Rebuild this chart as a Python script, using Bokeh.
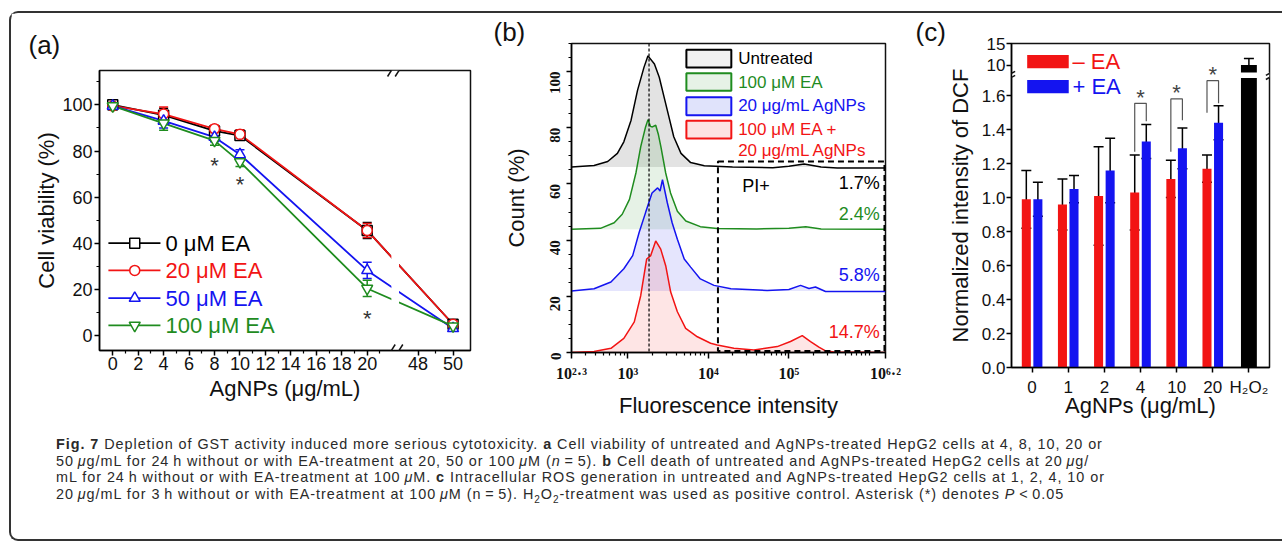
import math
from bokeh.plotting import figure
from bokeh.models import (FixedTicker, Range1d, Whisker, TeeHead, Arrow, Span,
                          BoxAnnotation, ColumnDataSource, Div)
from bokeh.layouts import row, column
from bokeh.embed import file_html
from bokeh.resources import INLINE
from bokeh.core.properties import value

SANS = "Liberation Sans"
SERIF = "Liberation Serif"

# ---------------- data: panel (a) ----------------
conc_a = [0, 4, 8, 10, 20, 50]
via_0 = [100, 95.5, 88.7, 86.7, 45.6, 5]
via_20 = [99.5, 96, 89.6, 87.2, 45.6, 5]
via_50 = [99.5, 93, 86, 78.5, 28.3, 3.2]
via_100 = [99.5, 92, 84.5, 75.3, 20.5, 4.2]
err_0 = [1.5, 3, 1.5, 1.5, 3.5, 1.5]
err_20 = [1.5, 3, 1.5, 2, 3, 1.5]
err_50 = [1.5, 3, 2, 2, 3.5, 1]
err_100 = [1.5, 3, 2, 2, 3.5, 1]
names_a = ["0 \u03bcM EA", "20 \u03bcM EA", "50 \u03bcM EA", "100 \u03bcM EA"]
sig_a_x = [8, 10, 20]
sig_a_y = [76, 67.5, 9.5]
xticks_a = [0, 2, 4, 6, 8, 10, 12, 14, 16, 18, 20, 48, 50]
yticks_a = [0, 20, 40, 60, 80, 100]

# ---------------- data: panel (b) ----------------
lx_untr = [2.30, 2.58, 2.75, 2.87, 2.95, 3.04, 3.12, 3.20, 3.25, 3.33, 3.39, 3.45,
           3.51, 3.57, 3.66, 3.78, 3.95, 4.3, 4.8, 5.0, 5.19, 5.4, 5.6, 6.2]
ct_untr = [66.0, 66.6, 68.0, 70.9, 75.0, 82.7, 93.3, 101.5, 105.6, 102.7, 98.0, 90.9,
           83.9, 76.8, 70.9, 67.6, 66.5, 66.0, 65.8, 66.3, 67.1, 66.0, 65.7, 65.7]
lx_ea = [2.30, 2.66, 2.83, 2.93, 3.02, 3.10, 3.16, 3.22, 3.25, 3.28, 3.305, 3.346, 3.38,
         3.41, 3.47, 3.53, 3.615, 3.72, 3.90, 4.11, 4.6, 5.0, 5.21, 5.4, 6.2]
ct_ea = [43.9, 44.2, 46.2, 49.2, 54.5, 63.9, 73.3, 80.3, 82.9, 80.5, 80.3, 80.9, 77.5,
         73.3, 63.9, 56.8, 50.3, 46.8, 44.8, 44.1, 44.0, 44.2, 44.8, 44.0, 43.9]
lx_ag = [2.30, 2.58, 2.79, 2.95, 3.06, 3.14, 3.22, 3.30, 3.37, 3.40, 3.43, 3.49, 3.55,
         3.615, 3.70, 3.78, 3.90, 4.07, 4.28, 4.73, 5.0, 5.145, 5.25, 5.33, 5.455, 6.2]
ct_ag = [21.9, 22.7, 25.1, 29.8, 34.5, 42.7, 49.8, 56.8, 58.6, 57.5, 61.5, 53.3, 46.2,
         40.3, 33.3, 30.4, 26.2, 23.9, 22.7, 22.1, 22.4, 23.9, 22.8, 23.3, 21.7, 21.7]
lx_both = [2.30, 2.58, 2.79, 2.95, 3.08, 3.16, 3.234, 3.284, 3.346, 3.408, 3.47, 3.532,
           3.615, 3.718, 3.863, 4.028, 4.11, 4.317, 4.565, 4.856, 5.02, 5.166, 5.269,
           5.373, 5.455, 5.558, 6.2]
ct_both = [0, 0.35, 1.5, 5.0, 10.9, 20.3, 33.3, 34.5, 39.7, 36.8, 30.9, 21.5,
           14.5, 8.6, 5.6, 3.3, 2.7, 1.5, 0.9, 2.1, 3.9, 6.0, 3.9,
           1.9, 0.6, 0.2, 0]
base_b = [66.0, 43.9, 21.9, 0.0]
pct_b = ["1.7%", "2.4%", "5.8%", "14.7%"]
pct_y = [60.4, 49.4, 27.6, 7.4]
names_b = ["Untreated", "100 \u03bcM EA", "20 \u03bcg/mL AgNPs", "100 \u03bcM EA +"]
peak_log = 3.263
gate_log = [4.119, 6.187]
gate_ct = [0.56, 68.0]

# ---------------- data: panel (c) ----------------
cats_c = ["0", "1", "2", "4", "10", "20", "H\u2082O\u2082"]
dcf_minus = [0.99, 0.96, 1.01, 1.03, 1.11, 1.17]
err_minus = [0.17, 0.15, 0.29, 0.22, 0.11, 0.08]
dcf_plus = [0.99, 1.05, 1.16, 1.33, 1.29, 1.44]
err_plus = [0.10, 0.08, 0.19, 0.10, 0.12, 0.10]
h2o2_val = 10.0
h2o2_err = 1.5
sig_c_idx = [3, 4, 5]
sig_c_top = [1.555, 1.581, 1.688]
sig_c_left = [1.27, 1.27, 1.50]
sig_c_right = [1.45, 1.455, 1.555]
sig_c_star = [1.62, 1.65, 1.756]

RED = "#f21414"
BLUE = "#1414f0"
GREEN = "#1f8c1f"
BLACK = "#000000"


def style_axes(p, tick_font, tick_size, tick_style="normal"):
    for ax in (p.xaxis[0], p.yaxis[0]):
        ax.axis_line_width = 1.5
        ax.major_tick_line_width = 1.5
        ax.minor_tick_line_width = 1.2
        ax.major_tick_in = 0
        ax.minor_tick_in = 0
        ax.major_label_text_font = tick_font
        ax.major_label_text_font_size = tick_size
        ax.major_label_text_font_style = tick_style
        ax.major_label_text_color = "#111111"
        ax.axis_label_text_font = SANS
        ax.axis_label_text_font_size = "22px"
        ax.axis_label_text_font_style = "normal"
        ax.axis_label_text_color = "#111111"
    p.xgrid.visible = False
    p.ygrid.visible = False
    p.outline_line_color = "#111111"
    p.outline_line_width = 1.5
    p.background_fill_color = "white"
    p.border_fill_color = "white"


def panel_label(p, offset, standoff):
    t = p.title
    t.align = "left"
    t.offset = offset
    t.standoff = standoff
    t.text_font = SANS
    t.text_font_size = "26px"
    t.text_font_style = "normal"
    t.text_color = "#111111"


# ================= panel (a) =================
def xa(c):
    return c if c <= 20 else 24 + (c - 48) * 1.375


pa = figure(width=479, height=407, title="(a)", x_range=Range1d(-1.04, 28.12),
            y_range=Range1d(-6.36, 114.85), output_backend="svg", toolbar_location=None,
            min_border_left=88, min_border_right=20, min_border_top=57, min_border_bottom=70,
            frame_align=False)
style_axes(pa, SANS, "18px")
panel_label(pa, -71, 21)
pa.xaxis.ticker = FixedTicker(ticks=[xa(v) for v in xticks_a],
                              minor_ticks=[1, 3, 5, 7, 9, 11, 13, 15, 17, 19, 21, xa(49)])
pa.xaxis.major_label_overrides = {xa(v): str(v) for v in xticks_a}
pa.yaxis.ticker = FixedTicker(ticks=yticks_a, minor_ticks=[10, 30, 50, 70, 90, 110])
pa.xaxis.major_tick_out = 5
pa.xaxis.minor_tick_out = 3
pa.yaxis.major_tick_out = 5
pa.yaxis.minor_tick_out = 3
pa.xaxis.major_label_standoff = 1
pa.yaxis.major_label_standoff = 2
pa.xaxis.axis_label = "AgNPs (\u03bcg/mL)"
pa.yaxis.axis_label = "Cell viability (%)"
pa.xaxis.axis_label_standoff = 3
pa.yaxis.axis_label_standoff = 0

series_a = [(via_0, err_0, BLACK, "square", 10),
            (via_20, err_20, RED, "circle", 10),
            (via_50, err_50, BLUE, "triangle", 11),
            (via_100, err_100, GREEN, "inverted_triangle", 11)]
xs_a = [xa(c) for c in conc_a]
for vals, errs, col, mk, sz in series_a:
    pa.line(xs_a, vals, line_color=col, line_width=1.8)
# axis-break gap in the curves
pa.quad(left=[21.9], right=[22.5], bottom=[-6.36], top=[114.85],
        fill_color="white", line_color=None)
for vals, errs, col, mk, sz in series_a:
    src = ColumnDataSource(dict(x=xs_a, up=[v + e for v, e in zip(vals, errs)],
                                lo=[v - e for v, e in zip(vals, errs)]))
    pa.add_layout(Whisker(source=src, base="x", upper="up", lower="lo", line_color=col,
                          line_width=1.5,
                          upper_head=TeeHead(size=9, line_color=col, line_width=1.5),
                          lower_head=TeeHead(size=9, line_color=col, line_width=1.5)))
for vals, errs, col, mk, sz in series_a:
    pa.scatter(xs_a, vals, marker=mk, size=sz, fill_color="white", line_color=col,
               line_width=1.5)

pa.text(x=sig_a_x, y=sig_a_y, text=["*"] * 3, text_font=value(SANS),
        text_font_size="22px", text_color="#333333", text_align="center",
        text_baseline="middle", y_offset=5)

# legend (a)
leg_y_a = [40.1, 28.3, 16.3, 4.5]
for (vals, errs, col, mk, sz), nm, ly in zip(series_a, names_a, leg_y_a):
    pa.line([-0.34, 3.75], [ly, ly], line_color=col, line_width=1.8)
    pa.scatter([1.73], [ly], marker=mk, size=sz, fill_color="white", line_color=col,
               line_width=1.5)
    pa.text(x=[4.14], y=[ly], text=[nm], text_font=value(SANS), text_font_size="22px",
            text_color=col, text_baseline="middle")

for xc in (21.9, 22.5):
    for yc_ in (114.85, -6.36):
        pa.add_layout(Arrow(start=None, end=None, x_start=xc - 0.3, y_start=yc_ - 2.6,
                            x_end=xc + 0.3, y_end=yc_ + 2.6, line_width=1.5,
                            line_color="#111111"))

# ================= panel (b) =================
pb = figure(width=415, height=407, title="(b)", x_axis_type="log",
            x_range=Range1d(10 ** 2.3, 10 ** 6.2), y_range=Range1d(0, 110),
            output_backend="svg", toolbar_location=None,
            min_border_left=81, min_border_right=20, min_border_top=30, min_border_bottom=66,
            frame_align=False)
style_axes(pb, SERIF, "16px", "bold")
panel_label(pb, -78, -7)
xt_b = [10 ** 2.3, 1e3, 1e4, 1e5, 10 ** 6.2]
xl_b = ["10\u00b2\u00b7\u00b3", "10\u00b3", "10\u2074", "10\u2075", "10\u2076\u00b7\u00b2"]
minor_b = [k * 10 ** n for n in range(2, 7) for k in range(2, 10)
           if 10 ** 2.3 < k * 10 ** n < 10 ** 6.2] + [1e6]
pb.xaxis.ticker = FixedTicker(ticks=xt_b, minor_ticks=minor_b)
pb.xaxis.major_label_overrides = dict(zip(xt_b, xl_b))
pb.yaxis.ticker = FixedTicker(ticks=[0, 20, 40, 60, 80, 100],
                              minor_ticks=[5, 10, 15, 25, 30, 35, 45, 50, 55, 65, 70, 75,
                                           85, 90, 95, 105, 110])
pb.yaxis.major_label_text_font_size = "15px"
pb.yaxis.major_label_orientation = math.pi / 2
pb.xaxis.major_tick_out = 6
pb.xaxis.minor_tick_out = 3
pb.yaxis.major_tick_out = 5
pb.yaxis.minor_tick_out = 3
pb.xaxis.major_label_standoff = 6
pb.yaxis.major_label_standoff = 11
pb.xaxis.axis_label = "Fluorescence intensity"
pb.yaxis.axis_label = "Count (%)"
pb.xaxis.axis_label_standoff = 8
pb.yaxis.axis_label_standoff = 14

hist_b = [(lx_untr, ct_untr, BLACK, "#f2f2f2"), (lx_ea, ct_ea, GREEN, "#e6f2e6"),
          (lx_ag, ct_ag, BLUE, "#e0e3fb"), (lx_both, ct_both, RED, "#fde2e2")]
for (lxs, cts, col, light), base in zip(hist_b, base_b):
    xs = [10 ** v for v in lxs]
    pb.varea(x=xs, y1=base, y2=cts, fill_color=col, fill_alpha=0.11)
    pb.line(xs, cts, line_color=col, line_width=1.5)

pb.add_layout(Span(location=10 ** peak_log, dimension="height", line_dash="3 2",
                   line_width=1.2, line_color="black"))
pb.add_layout(BoxAnnotation(left=10 ** gate_log[0], right=10 ** gate_log[1],
                            bottom=gate_ct[0], top=gate_ct[1], fill_alpha=0,
                            line_color="black", line_alpha=1, line_width=2,
                            line_dash="6 4"))
pb.text(x=[10 ** 4.42], y=[59.1], text=["PI+"], text_font=value(SANS),
        text_font_size="18px", text_color="black", text_baseline="middle")
pb.text(x=[10 ** 6.13] * 4, y=pct_y, text=pct_b, text_font=value(SANS),
        text_font_size="18px", text_color=[BLACK, GREEN, BLUE, RED], text_align="right",
        text_baseline="middle")

leg_b_bot = [101.5, 93.2, 84.5, 76.2]
leg_b_top = [107.8, 99.4, 90.9, 82.5]
leg_b_ty = [104.5, 96.2, 87.8, 79.5]
for (lxs, cts, col, light), nm, bt, tp, ty in zip(hist_b, names_b, leg_b_bot, leg_b_top,
                                                    leg_b_ty):
    pb.quad(left=[10 ** 3.727], right=[10 ** 4.285], bottom=[bt], top=[tp],
            fill_color=light, line_color=col, line_width=2)
    pb.text(x=[10 ** 4.37], y=[ty], text=[nm], text_font=value(SANS),
            text_font_size="17px", text_color=col, text_baseline="middle")
pb.text(x=[10 ** 4.37], y=[71.8], text=["20 \u03bcg/mL AgNPs"], text_font=value(SANS),
        text_font_size="17px", text_color=RED, text_baseline="middle")

# ================= panel (c) =================
def yc(v):
    return v if v <= 1.7 else 1.780 + (v - 10) * 0.0254


pc = figure(width=377, height=407, title="(c)", x_range=Range1d(-0.57, 6.57),
            y_range=Range1d(0, yc(15)), output_backend="svg", toolbar_location=None,
            min_border_left=106, min_border_right=13, min_border_top=30, min_border_bottom=52,
            frame_align=False)
style_axes(pc, SANS, "17px")
panel_label(pc, -96, -7)
yt_c = [round(0.2 * i, 1) for i in range(9)]
pc.yaxis.ticker = FixedTicker(ticks=yt_c + [yc(10), yc(15)])
ov = {v: "%.1f" % v for v in yt_c}
ov[yc(10)] = "10"
ov[yc(15)] = "15"
pc.yaxis.major_label_overrides = ov
pc.xaxis.ticker = FixedTicker(ticks=list(range(7)))
pc.xaxis.major_label_overrides = {i: c for i, c in enumerate(cats_c)}
pc.xaxis.major_tick_out = 5
pc.yaxis.major_tick_out = 5
pc.xaxis.major_label_standoff = 5
pc.yaxis.major_label_standoff = 1
pc.xaxis.axis_label = "AgNPs (\u03bcg/mL)"
pc.yaxis.axis_label = "Normalized intensity of DCF"
pc.xaxis.axis_label_standoff = -7
pc.yaxis.axis_label_standoff = 6

n6 = list(range(6))
xr = [i - 0.16 for i in n6]
xb = [i + 0.16 for i in n6]
pc.vbar(x=xr, top=dcf_minus, width=0.25, fill_color=RED, line_color=None)
pc.vbar(x=xb, top=dcf_plus, width=0.25, fill_color=BLUE, line_color=None)
pc.vbar(x=[6], top=[yc(h2o2_val)], width=0.44, fill_color="black", line_color=None)
# break band
pc.quad(left=[-0.57], right=[6.57], bottom=[1.704], top=[1.737], fill_color="white",
        line_color=None)
for xs, vals, errs in ((xr, dcf_minus, err_minus), (xb, dcf_plus, err_plus)):
    src = ColumnDataSource(dict(x=xs, up=[v + e for v, e in zip(vals, errs)],
                                lo=[v - e for v, e in zip(vals, errs)]))
    pc.add_layout(Whisker(source=src, base="x", upper="up", lower="lo", line_color="black",
                          line_width=1.5,
                          upper_head=TeeHead(size=10, line_color="black", line_width=1.5),
                          lower_head=TeeHead(size=10, line_color="black", line_width=1.5)))
srch = ColumnDataSource(dict(x=[6], up=[yc(h2o2_val + h2o2_err)], lo=[yc(h2o2_val)]))
pc.add_layout(Whisker(source=srch, base="x", upper="up", lower="lo", line_color="black",
                      line_width=1.5,
                      upper_head=TeeHead(size=10, line_color="black", line_width=1.5),
                      lower_head=None))
pc.multi_line(xs=[[i - 0.16, i - 0.16, i + 0.16, i + 0.16] for i in sig_c_idx],
              ys=[[l, t, t, r] for l, t, r in zip(sig_c_left, sig_c_top, sig_c_right)],
              line_color="#555555", line_width=1.2)
pc.text(x=sig_c_idx, y=sig_c_star, text=["*"] * 3, text_font=value(SANS),
        text_font_size="22px", text_color="#444444", text_align="center",
        text_baseline="middle", y_offset=5)
# legend (c)
pc.quad(left=[-0.136, -0.136], right=[1.014, 1.014], bottom=[1.762, 1.614],
        top=[1.840, 1.692], fill_color=[RED, BLUE], line_color=None)
pc.text(x=[1.116, 1.116], y=[1.801, 1.653], text=["\u2013 EA", "+ EA"],
        text_font=value(SANS), text_font_size="22px", text_color=[RED, BLUE],
        text_baseline="middle")
for xe in (-0.57, 6.57):
    for yb in (1.707, 1.731):
        pc.add_layout(Arrow(start=None, end=None, x_start=xe - 0.1, y_start=yb - 0.012,
                            x_end=xe + 0.1, y_end=yb + 0.012, line_width=1.5,
                            line_color="#111111"))

# ================= caption =================
T = "\u2009"
cap_html = (
    '<div style="font-family: \'Liberation Sans\', Arial, sans-serif; font-size: 14.4px; '
    'letter-spacing: 0.95px; line-height: 16.6px; color: #2a2a2a; white-space: nowrap; '
    'padding: 16px 0 0 45px;">'
    '<b>Fig. 7</b> Depletion of GST activity induced more serious cytotoxicity. <b>a</b> '
    'Cell viability of untreated and AgNPs-treated HepG2 cells at 4, 8, 10, 20 or<br>'
    f'50{T}<i>\u03bc</i>g/mL for 24{T}h without or with EA-treatment at 20, 50 or 100{T}'
    f'<i>\u03bc</i>M (<i>n</i>{T}={T}5). <b>b</b> Cell death of untreated and AgNPs-treated '
    f'HepG2 cells at 20{T}<i>\u03bc</i>g/<br>'
    f'mL for 24{T}h without or with EA-treatment at 100{T}<i>\u03bc</i>M. <b>c</b> '
    'Intracellular ROS generation in untreated and AgNPs-treated HepG2 cells at 1, 2, 4, 10 or<br>'
    f'20{T}<i>\u03bc</i>g/mL for 3{T}h without or with EA-treatment at 100{T}<i>\u03bc</i>M '
    f'(n{T}={T}5). H<sub style="font-size:10px; line-height:0">2</sub>O'
    f'<sub style="font-size:10px; line-height:0">2</sub>'
    f'-treatment was used as positive control. Asterisk (*) denotes <i>P</i>{T}&lt;{T}0.05'
    '</div>')
cap = Div(text=cap_html, width=1271, height=119, margin=(0, 0, 0, 0))

top = row(pa, pb, pc)
layout = column(top, cap, margin=(11, 0, 0, 9),
                styles={"border-top": "2px solid #333", "border-left": "2px solid #333",
                        "border-bottom": "2px solid #333",
                        "border-top-left-radius": "9px",
                        "border-bottom-left-radius": "9px"})

open("out.html", "w").write(file_html(layout, INLINE))
